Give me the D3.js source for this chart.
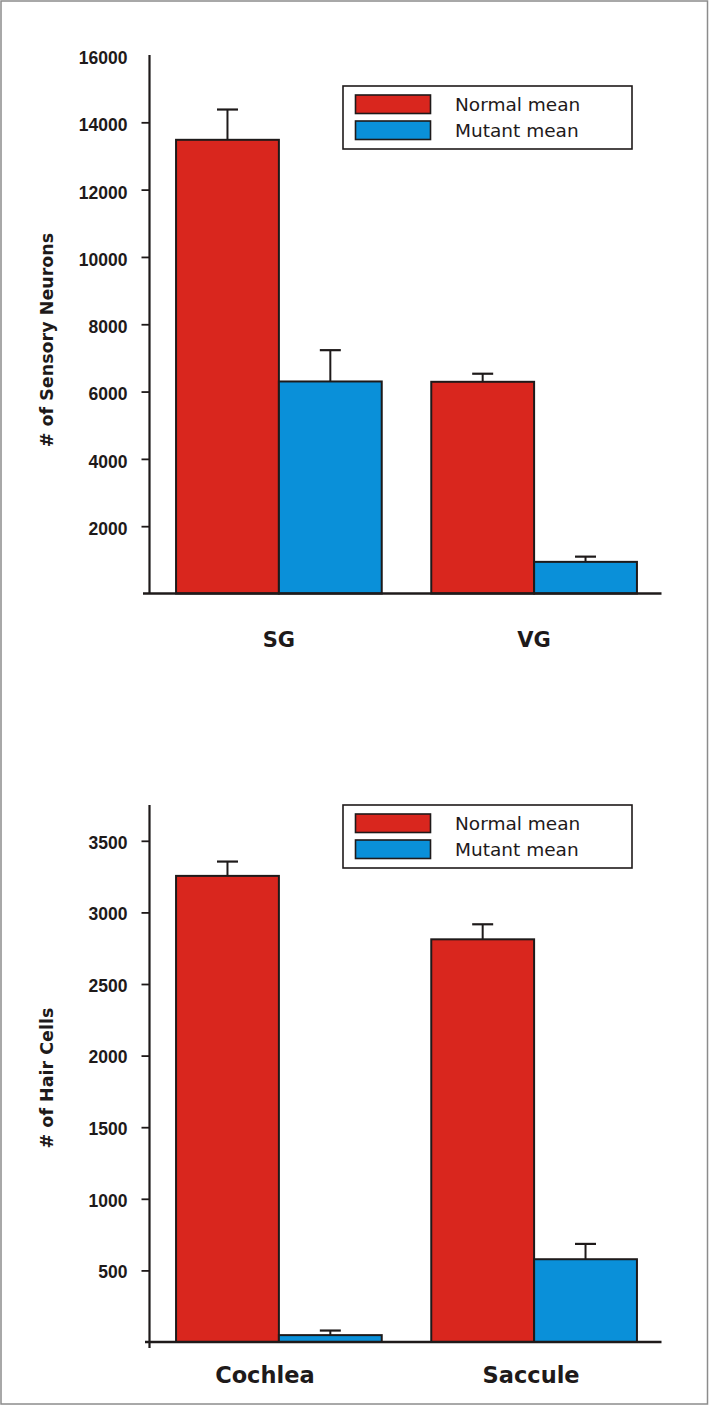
<!DOCTYPE html>
<html><head><meta charset="utf-8">
<script src="https://cdn.jsdelivr.net/npm/d3@7"></script>
<style>html,body{margin:0;padding:0;background:#fff;}svg{display:block;}</style>
</head><body>
<script>
// ---- data ----
const seriesNames = ["Normal mean", "Mutant mean"];
const neuronCategories = ["SG", "VG"];
const neuronNormal = [13480, 6290];
const neuronNormalErr = [900, 240];
const neuronMutant = [6300, 940];
const neuronMutantErr = [930, 155];
const neuronTicks = [2000, 4000, 6000, 8000, 10000, 12000, 14000, 16000];

const hairCategories = ["Cochlea", "Saccule"];
const hairNormal = [3255, 2812];
const hairNormalErr = [100, 105];
const hairMutant = [48, 578];
const hairMutantErr = [32, 107];
const hairTicks = [500, 1000, 1500, 2000, 2500, 3000, 3500];

const colors = ["#d9261e", "#0a90d9"];
const ink = "#1e1a1a";

const W = 709, H = 1406;
const svg = d3.select("body").append("svg").attr("width", W).attr("height", H);
svg.append("rect").attr("x", 1).attr("y", 1).attr("width", W - 2.5).attr("height", H - 3)
  .attr("fill", "#fff").attr("stroke", "#8c8c8c").attr("stroke-width", 1.5);

function panel(cfg) {
  const g = svg.append("g");
  const x = d3.scaleBand().domain(cfg.categories).range([149, 664]).paddingInner(0.194).paddingOuter(0.106);
  const xs = d3.scaleBand().domain(seriesNames).range([0, x.bandwidth()]);
  const y = d3.scaleLinear().domain([0, cfg.max]).range([cfg.y0, cfg.y1]);

  const rows = cfg.categories.map((c, i) => ({
    cat: c,
    vals: [
      {s: seriesNames[0], v: cfg.normal[i], e: cfg.normalErr[i], c: colors[0]},
      {s: seriesNames[1], v: cfg.mutant[i], e: cfg.mutantErr[i], c: colors[1]}
    ]
  }));

  const grp = g.selectAll("g.grp").data(rows).enter().append("g")
    .attr("transform", d => `translate(${x(d.cat)},0)`);
  // error bars
  grp.selectAll("g.err").data(d => d.vals).enter().append("g").each(function(d) {
    const cx = xs(d.s) + xs.bandwidth() / 2;
    const s = d3.select(this);
    s.append("line").attr("x1", cx).attr("x2", cx).attr("y1", y(d.v)).attr("y2", y(d.v + d.e))
      .attr("stroke", ink).attr("stroke-width", 2);
    s.append("line").attr("x1", cx - 10.5).attr("x2", cx + 10.5).attr("y1", y(d.v + d.e)).attr("y2", y(d.v + d.e))
      .attr("stroke", ink).attr("stroke-width", 2.2);
  });
  grp.selectAll("rect").data(d => d.vals).enter().append("rect")
    .attr("x", d => xs(d.s))
    .attr("width", xs.bandwidth())
    .attr("y", d => y(d.v))
    .attr("height", d => y(0) - y(d.v))
    .attr("fill", d => d.c)
    .attr("stroke", ink).attr("stroke-width", 2);

  // y axis
  const ax = d3.axisLeft(y).tickValues(cfg.ticks).tickSize(8).tickPadding(14).tickFormat(d3.format("d"));
  const ag = g.append("g").attr("transform", "translate(149.5,0)").call(ax);
  ag.select(".domain").remove();
  ag.selectAll(".tick line").attr("stroke", ink).attr("stroke-width", 1.8)
    .filter(d => d === cfg.max).remove();
  ag.selectAll(".tick text").attr("fill", ink)
    .style("font-family", "'Liberation Sans', Arial, sans-serif")
    .style("font-weight", "bold").style("font-size", "17.5px").attr("dy", cfg.tickDy);
  g.append("line").attr("x1", 149.5).attr("x2", 149.5).attr("y1", y(cfg.max)).attr("y2", y(0) + cfg.stub)
    .attr("stroke", ink).attr("stroke-width", 2.2);
  // x axis baseline
  g.append("line").attr("x1", cfg.xStart).attr("x2", 661.5).attr("y1", y(0)).attr("y2", y(0))
    .attr("stroke", ink).attr("stroke-width", 2.4);

  // category labels
  g.selectAll("text.cat").data(cfg.categories).enter().append("text")
    .attr("x", (d, i) => x(d) + x.bandwidth() / 2 + cfg.labelDx[i]).attr("y", cfg.labelY)
    .attr("text-anchor", "middle").attr("fill", ink)
    .style("font-family", "'DejaVu Sans', sans-serif").style("font-weight", "bold")
    .style("font-size", cfg.labelSize + "px")
    .text(d => d);

  // y title
  g.append("text").attr("transform", `translate(53,${cfg.titleY}) rotate(-90)`)
    .attr("text-anchor", "middle").attr("fill", ink)
    .style("font-family", "'DejaVu Sans', sans-serif").style("font-weight", "bold")
    .style("font-size", "17.5px").text(cfg.title);

  // legend
  const L = g.append("g").attr("transform", `translate(0,${cfg.legY})`);
  L.append("rect").attr("x", 343).attr("y", 0).attr("width", 289).attr("height", 63)
    .attr("fill", "#fff").attr("stroke", ink).attr("stroke-width", 1.6);
  const li = L.selectAll("g.li").data(seriesNames).enter().append("g")
    .attr("transform", (d, i) => `translate(0,${9 + i * 26})`);
  li.append("rect").attr("x", 355.5).attr("y", 0).attr("width", 75).attr("height", 18.5)
    .attr("fill", (d, i) => colors[i]).attr("stroke", ink).attr("stroke-width", 1.6);
  li.append("text").attr("x", 455).attr("y", 16).attr("fill", ink)
    .style("font-family", "'DejaVu Sans', sans-serif").style("font-size", "18.5px")
    .text(d => d);
}

panel({
  categories: neuronCategories, normal: neuronNormal, normalErr: neuronNormalErr,
  mutant: neuronMutant, mutantErr: neuronMutantErr, ticks: neuronTicks,
  max: 16000, y0: 593.5, y1: 55, tickDy: "0.48em", stub: 0, xStart: 143,
  labelY: 647, labelSize: 21, labelDx: [0, 0], title: "# of Sensory Neurons", titleY: 340, legY: 86
});
panel({
  categories: hairCategories, normal: hairNormal, normalErr: hairNormalErr,
  mutant: hairMutant, mutantErr: hairMutantErr, ticks: hairTicks,
  max: 3750, y0: 1342, y1: 805, tickDy: "0.42em", stub: 6, xStart: 145,
  labelY: 1382.5, labelSize: 22.5, labelDx: [-14, -3], title: "# of Hair Cells", titleY: 1078, legY: 805
});
</script>
</body></html>
